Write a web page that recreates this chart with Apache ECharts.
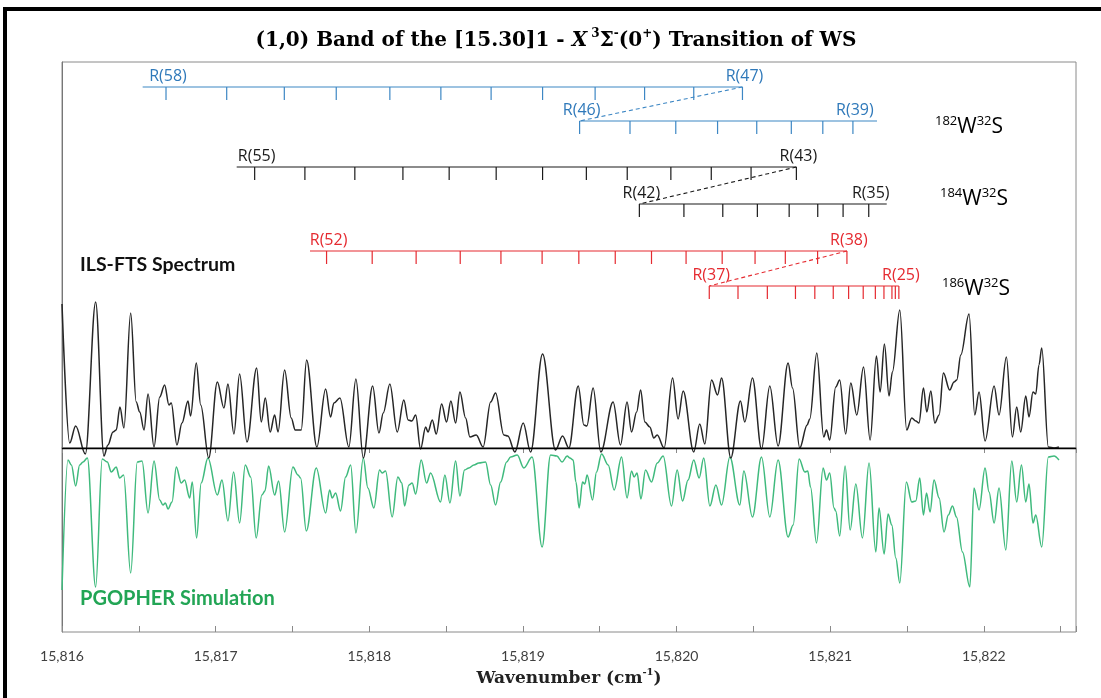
<!DOCTYPE html>
<html>
<head>
<meta charset="utf-8">
<script src="https://cdn.jsdelivr.net/npm/echarts@6/dist/echarts.min.js"></script>
<style>
  html, body { margin: 0; padding: 0; background: #fff; }
  #chart { width: 1101px; height: 698px; }
</style>
</head>
<body>
<div id="chart"></div>
<script>
// ILS-FTS spectrum: [wavenumber (cm-1), intensity (arb. units)]
const ftsSpectrum = [
  [15816.000,144],[15816.050,5],[15816.089,22],[15816.152,-6],[15816.219,146],[15816.273,-8],[15816.299,3],
  [15816.332,16],[15816.353,18],[15816.377,41],[15816.403,20],[15816.447,135],[15816.483,46],[15816.506,36],
  [15816.534,18],[15816.560,54],[15816.599,1],[15816.636,51],[15816.668,63],[15816.696,43],[15816.711,45],
  [15816.748,3],[15816.781,25],[15816.820,47],[15816.837,32],[15816.874,85],[15816.903,43],[15816.955,-10],
  [15817.011,66],[15817.054,40],[15817.080,64],[15817.119,14],[15817.156,74],[15817.204,6],[15817.267,80],
  [15817.297,26],[15817.323,50],[15817.355,16],[15817.384,33],[15817.406,16],[15817.449,78],[15817.492,30],
  [15817.518,18],[15817.557,18],[15817.592,88],[15817.659,1],[15817.716,59],[15817.748,31],[15817.770,45],
  [15817.809,50],[15817.867,1],[15817.913,69],[15817.961,-10],[15818.022,62],[15818.063,15],[15818.091,35],
  [15818.134,64],[15818.182,16],[15818.225,48],[15818.253,28],[15818.277,27],[15818.302,33],[15818.334,-1],
  [15818.367,21],[15818.382,16],[15818.410,28],[15818.436,14],[15818.471,44],[15818.503,26],[15818.531,47],
  [15818.562,25],[15818.590,56],[15818.627,30],[15818.655,11],[15818.696,13],[15818.741,1],[15818.790,46],
  [15818.822,55],[15818.876,13],[15818.902,12],[15818.948,-4],[15819.002,25],[15819.050,-4],[15819.128,94],
  [15819.212,-2],[15819.258,12],[15819.299,0],[15819.360,62],[15819.397,23],[15819.416,22],[15819.457,60],
  [15819.507,-4],[15819.587,46],[15819.635,3],[15819.678,46],[15819.707,16],[15819.740,36],[15819.766,58],
  [15819.794,26],[15819.826,21],[15819.852,10],[15819.874,13],[15819.919,0],[15819.974,70],[15820.010,29],
  [15820.043,57],[15820.112,-4],[15820.151,24],[15820.184,4],[15820.228,68],[15820.267,53],[15820.293,70],
  [15820.353,-10],[15820.416,47],[15820.444,26],[15820.494,70],[15820.553,-1],[15820.607,62],[15820.661,2],
  [15820.726,85],[15820.755,60],[15820.802,0],[15820.850,23],[15820.867,29],[15820.913,95],[15820.958,11],
  [15820.976,18],[15820.997,8],[15821.036,61],[15821.062,68],[15821.101,14],[15821.134,65],[15821.173,33],
  [15821.217,81],[15821.260,8],[15821.301,92],[15821.325,56],[15821.353,104],[15821.383,52],[15821.405,76],
  [15821.453,138],[15821.498,18],[15821.531,30],[15821.557,27],[15821.578,25],[15821.607,60],[15821.629,36],
  [15821.655,57],[15821.681,25],[15821.709,33],[15821.737,75],[15821.778,58],[15821.806,66],[15821.824,68],
  [15821.850,93],[15821.904,134],[15821.941,33],[15821.969,56],[15822.008,7],[15822.067,62],[15822.099,33],
  [15822.147,91],[15822.186,11],[15822.214,41],[15822.240,16],[15822.273,52],[15822.294,31],[15822.320,56],
  [15822.338,54],[15822.359,83],[15822.377,100],[15822.420,1],[15822.457,0],[15822.489,1]
];

// PGOPHER simulation, drawn inverted below the baseline
const pgopherSpectrum = [
  [15816.000,-142],[15816.039,-12],[15816.061,-17],[15816.089,-38],[15816.115,-17],[15816.137,-14],[15816.165,-10],
  [15816.219,-139],[15816.262,-11],[15816.295,-14],[15816.321,-24],[15816.353,-19],[15816.375,-30],[15816.401,-27],
  [15816.447,-125],[15816.490,-14],[15816.521,-13],[15816.560,-65],[15816.599,-13],[15816.636,-52],[15816.657,-57],
  [15816.673,-55],[15816.690,-61],[15816.716,-54],[15816.744,-19],[15816.776,-35],[15816.798,-32],[15816.831,-50],
  [15816.848,-34],[15816.876,-90],[15816.906,-35],[15816.950,-10],[15817.011,-47],[15817.041,-32],[15817.080,-73],
  [15817.117,-24],[15817.156,-75],[15817.193,-17],[15817.228,-29],[15817.264,-90],[15817.301,-47],[15817.321,-43],
  [15817.345,-18],[15817.384,-47],[15817.410,-33],[15817.449,-84],[15817.503,-19],[15817.536,-27],[15817.553,-30],
  [15817.590,-83],[15817.655,-20],[15817.716,-65],[15817.742,-42],[15817.759,-50],[15817.781,-45],[15817.813,-63],
  [15817.846,-29],[15817.879,-17],[15817.913,-85],[15817.961,-10],[15817.991,-40],[15818.030,-60],[15818.067,-22],
  [15818.084,-25],[15818.106,-23],[15818.149,-69],[15818.186,-29],[15818.212,-35],[15818.230,-58],[15818.258,-37],
  [15818.279,-35],[15818.302,-46],[15818.338,-12],[15818.373,-35],[15818.399,-25],[15818.464,-54],[15818.492,-27],
  [15818.525,-55],[15818.562,-13],[15818.590,-48],[15818.620,-22],[15818.648,-20],[15818.681,-17],[15818.713,-15],
  [15818.757,-14],[15818.790,-37],[15818.822,-57],[15818.855,-34],[15818.894,-14],[15818.920,-9],[15818.963,-7],
  [15819.006,-20],[15819.060,-9],[15819.125,-99],[15819.180,-7],[15819.221,-8],[15819.255,-14],[15819.288,-8],
  [15819.306,-10],[15819.327,-12],[15819.345,-34],[15819.366,-60],[15819.388,-34],[15819.403,-36],[15819.418,-27],
  [15819.453,-52],[15819.479,-24],[15819.512,-6],[15819.555,-17],[15819.594,-42],[15819.642,-9],[15819.678,-50],
  [15819.707,-23],[15819.724,-29],[15819.743,-25],[15819.768,-51],[15819.798,-22],[15819.837,-34],[15819.874,-15],
  [15819.913,-8],[15819.967,-58],[15820.004,-22],[15820.039,-53],[15820.075,-32],[15820.112,-12],[15820.147,-30],
  [15820.177,-10],[15820.217,-58],[15820.256,-37],[15820.293,-57],[15820.347,-9],[15820.412,-57],[15820.438,-23],
  [15820.494,-69],[15820.553,-9],[15820.607,-69],[15820.661,-12],[15820.726,-89],[15820.759,-77],[15820.798,-11],
  [15820.835,-24],[15820.854,-23],[15820.872,-39],[15820.911,-95],[15820.954,-20],[15820.976,-32],[15820.997,-25],
  [15821.025,-60],[15821.036,-63],[15821.062,-88],[15821.097,-18],[15821.130,-82],[15821.167,-36],[15821.210,-90],
  [15821.253,-15],[15821.297,-104],[15821.318,-60],[15821.351,-106],[15821.377,-66],[15821.401,-77],[15821.427,-110],
  [15821.453,-135],[15821.496,-34],[15821.531,-54],[15821.557,-53],[15821.583,-30],[15821.607,-67],[15821.627,-45],
  [15821.650,-64],[15821.676,-32],[15821.709,-50],[15821.741,-84],[15821.769,-67],[15821.796,-58],[15821.822,-69],
  [15821.861,-104],[15821.909,-139],[15821.936,-40],[15821.969,-62],[15822.008,-20],[15822.034,-44],[15822.067,-75],
  [15822.099,-40],[15822.143,-102],[15822.182,-13],[15822.214,-54],[15822.245,-17],[15822.273,-54],[15822.294,-36],
  [15822.320,-75],[15822.338,-67],[15822.377,-99],[15822.420,-9],[15822.457,-8],[15822.489,-12]
];

// R-branch line positions (cm-1) for each isotopologue
const r182W32S_R58_R47 = [15816.677,15817.072,15817.447,15817.785,15818.134,15818.466,15818.793,15819.128,15819.470,15819.792,15820.112,15820.429];
const r182W32S_R46_R39 = [15819.369,15819.697,15819.995,15820.267,15820.522,15820.747,15820.952,15821.148];
const r184W32S_R55_R43 = [15817.254,15817.581,15817.906,15818.219,15818.520,15818.826,15819.128,15819.413,15819.679,15819.963,15820.226,15820.485,15820.780];
const r184W32S_R42_R35 = [15819.758,15820.048,15820.301,15820.526,15820.733,15820.919,15821.084,15821.251];
const r186W32S_R52_R38 = [15817.722,15818.019,15818.305,15818.592,15818.857,15819.125,15819.364,15819.601,15819.837,15820.062,15820.297,15820.511,15820.708,15820.918,15821.109];
const r186W32S_R37_R25 = [15820.213,15820.400,15820.591,15820.774,15820.900,15821.020,15821.120,15821.215,15821.294,15821.350,15821.402,15821.424,15821.447];

// x-axis range and tick step (cm-1)
const xMin = 15816, xMax = 15822.6, xStep = 1, xMinorStep = 0.5;

const BLUE = '#3d87c4', BLUE_TXT = '#2f79ba';
const BLACK = '#1a1a1a';
const RED = '#e52a30';
const GREEN = '#3fba7d', GREEN_TXT = '#22a555';

// ladder layout: vertical level (axis units) and tick length
const TICK = 13;
const ladders = [
  { lines: r182W32S_R58_R47, first: 'R(58)', last: 'R(47)', from: 15816.525, to: null,      level: 361, color: BLUE,  text: BLUE_TXT },
  { lines: r182W32S_R46_R39, first: 'R(46)', last: 'R(39)', from: null,      to: 15821.305, level: 327, color: BLUE,  text: BLUE_TXT },
  { lines: r184W32S_R55_R43, first: 'R(55)', last: 'R(43)', from: 15817.137, to: null,      level: 281, color: BLACK, text: BLACK },
  { lines: r184W32S_R42_R35, first: 'R(42)', last: 'R(35)', from: null,      to: 15821.368, level: 244, color: BLACK, text: BLACK },
  { lines: r186W32S_R52_R38, first: 'R(52)', last: 'R(38)', from: 15817.614, to: null,      level: 197, color: RED,   text: RED },
  { lines: r186W32S_R37_R25, first: 'R(37)', last: 'R(25)', from: null,      to: null,      level: 162, color: RED,   text: RED }
];

const series = [];

series.push({
  name: 'PGOPHER Simulation', type: 'line', data: pgopherSpectrum,
  showSymbol: false, smooth: 0.35, smoothMonotone: 'x', silent: true, z: 2,
  lineStyle: { color: GREEN, width: 1.5 }
});
series.push({
  name: 'ILS-FTS Spectrum', type: 'line', data: ftsSpectrum,
  showSymbol: false, smooth: 0.35, smoothMonotone: 'x', silent: true, z: 3,
  lineStyle: { color: '#262626', width: 1.5 },
  markLine: {
    silent: true, symbol: 'none', label: { show: false },
    lineStyle: { color: '#000', width: 1.3, type: 'solid' },
    data: [{ yAxis: 0 }]
  }
});

ladders.forEach(function (lad) {
  const n = lad.lines.length;
  const start = lad.from !== null ? lad.from : lad.lines[0];
  const end = lad.to !== null ? lad.to : lad.lines[n - 1];
  // horizontal bar of the ladder
  series.push({
    type: 'line', data: [[start, lad.level], [end, lad.level]],
    showSymbol: false, silent: true, z: 4,
    lineStyle: { color: lad.color, width: 1.2 }
  });
  // one tick per assigned line, labels on the first and last
  series.push({
    type: 'custom', silent: true, z: 5,
    data: lad.lines.map(function (w) { return [w, lad.level]; }),
    renderItem: function (params, api) {
      const w = api.value(0);
      const p0 = api.coord([w, lad.level]);
      const p1 = api.coord([w, lad.level - TICK]);
      const children = [{
        type: 'line',
        shape: { x1: p0[0], y1: p0[1], x2: p1[0], y2: p1[1] },
        style: { stroke: lad.color, lineWidth: 1.2 }
      }];
      const i = params.dataIndex;
      if (i === 0 || i === n - 1) {
        children.push({
          type: 'text', x: p0[0] + 2, y: p0[1] - 3,
          style: {
            text: i === 0 ? lad.first : lad.last, fill: lad.text,
            font: '16px "Open Sans"', align: 'center', verticalAlign: 'bottom'
          }
        });
      }
      return { type: 'group', children: children };
    }
  });
});

// dashed links carrying each branch on to its next ladder
[[0, 1], [2, 3], [4, 5]].forEach(function (pair) {
  const a = ladders[pair[0]], b = ladders[pair[1]];
  series.push({
    type: 'line',
    data: [[a.lines[a.lines.length - 1], a.level], [b.lines[0], b.level]],
    showSymbol: false, silent: true, z: 4,
    lineStyle: { color: a.color, width: 1.1, type: [4, 3] }
  });
});

const isoRich = function (color) {
  return {
    s: { fontSize: 13, fontFamily: 'Open Sans', color: color, lineHeight: 24, verticalAlign: 'top' },
    b: { fontSize: 21, fontFamily: 'Open Sans', color: color, lineHeight: 24 }
  };
};

const SERIF = 'DejaVu Serif';

const option = {
  animation: false,
  backgroundColor: '#fff',
  grid: { left: 62, right: 25, top: 62, bottom: 66, show: true, borderColor: '#8a8a8a', borderWidth: 1 },
  xAxis: [
    {
      type: 'value', min: xMin, max: xMax, interval: xStep,
      axisLine: { show: true, lineStyle: { color: '#8a8a8a', width: 1.5 } },
      axisTick: { show: true, length: 5, lineStyle: { color: '#8a8a8a' } },
      splitLine: { show: false },
      axisLabel: {
        margin: 17, color: '#404040', fontFamily: 'Lato', fontSize: 14,
        formatter: function (v) { return Number.isInteger(v) ? v.toLocaleString('en-US') : ''; }
      },
      name: '{a|Wavenumber (cm}{s|-1}{a|)}', nameLocation: 'middle', nameGap: 35,
      nameTextStyle: {
        rich: {
          a: { fontFamily: SERIF, fontWeight: 'bold', fontSize: 17, color: '#222', lineHeight: 22 },
          s: { fontFamily: SERIF, fontWeight: 'bold', fontSize: 10, color: '#222', lineHeight: 22, verticalAlign: 'top' }
        }
      }
    },
    {
      type: 'value', min: xMin, max: xMax, interval: xMinorStep, position: 'bottom',
      axisLine: { show: false },
      axisTick: { show: true, inside: true, length: 6, lineStyle: { color: '#8a8a8a' } },
      axisLabel: { show: false }, splitLine: { show: false }
    }
  ],
  yAxis: {
    type: 'value', min: -184, max: 386,
    axisLine: { show: true, lineStyle: { color: '#777' } },
    axisTick: { show: false }, axisLabel: { show: false }, splitLine: { show: false }
  },
  series: series,
  graphic: [
    {
      type: 'rect', silent: true, z: 100,
      shape: { x: 5, y: 9, width: 1200, height: 800 },
      style: { fill: 'none', stroke: '#000', lineWidth: 4 }
    },
    {
      type: 'text', x: 556, y: 41, silent: true,
      style: {
        text: '{a|(1,0) Band of the [15.30]1 - }{i|X}{s| 3}{a|Σ}{s|-}{a|(0}{s|+}{a|) Transition of WS}',
        align: 'center', verticalAlign: 'middle',
        rich: {
          a: { fontFamily: SERIF, fontWeight: 'bold', fontSize: 20, color: '#111', lineHeight: 26 },
          i: { fontFamily: SERIF, fontWeight: 'bold', fontStyle: 'italic', fontSize: 20, color: '#111', lineHeight: 26 },
          s: { fontFamily: SERIF, fontWeight: 'bold', fontSize: 12, color: '#111', lineHeight: 26, verticalAlign: 'top' }
        }
      }
    },
    {
      type: 'text', x: 80, y: 265, silent: true,
      style: { text: 'ILS-FTS Spectrum', font: 'bold 19.5px Lato', fill: '#111', verticalAlign: 'middle' }
    },
    {
      type: 'text', x: 80, y: 599, silent: true,
      style: { text: 'PGOPHER Simulation', font: 'bold 20px Lato', fill: GREEN_TXT, verticalAlign: 'middle' }
    },
    {
      type: 'text', x: 935, y: 127, silent: true,
      style: { text: '{s|182}{b|W}{s|32}{b|S}', verticalAlign: 'middle', rich: isoRich(BLUE_TXT) }
    },
    {
      type: 'text', x: 940, y: 199, silent: true,
      style: { text: '{s|184}{b|W}{s|32}{b|S}', verticalAlign: 'middle', rich: isoRich('#111') }
    },
    {
      type: 'text', x: 942, y: 289, silent: true,
      style: { text: '{s|186}{b|W}{s|32}{b|S}', verticalAlign: 'middle', rich: isoRich(RED) }
    }
  ]
};

const chart = echarts.init(document.getElementById('chart'));
chart.setOption(option);
</script>
</body>
</html>
